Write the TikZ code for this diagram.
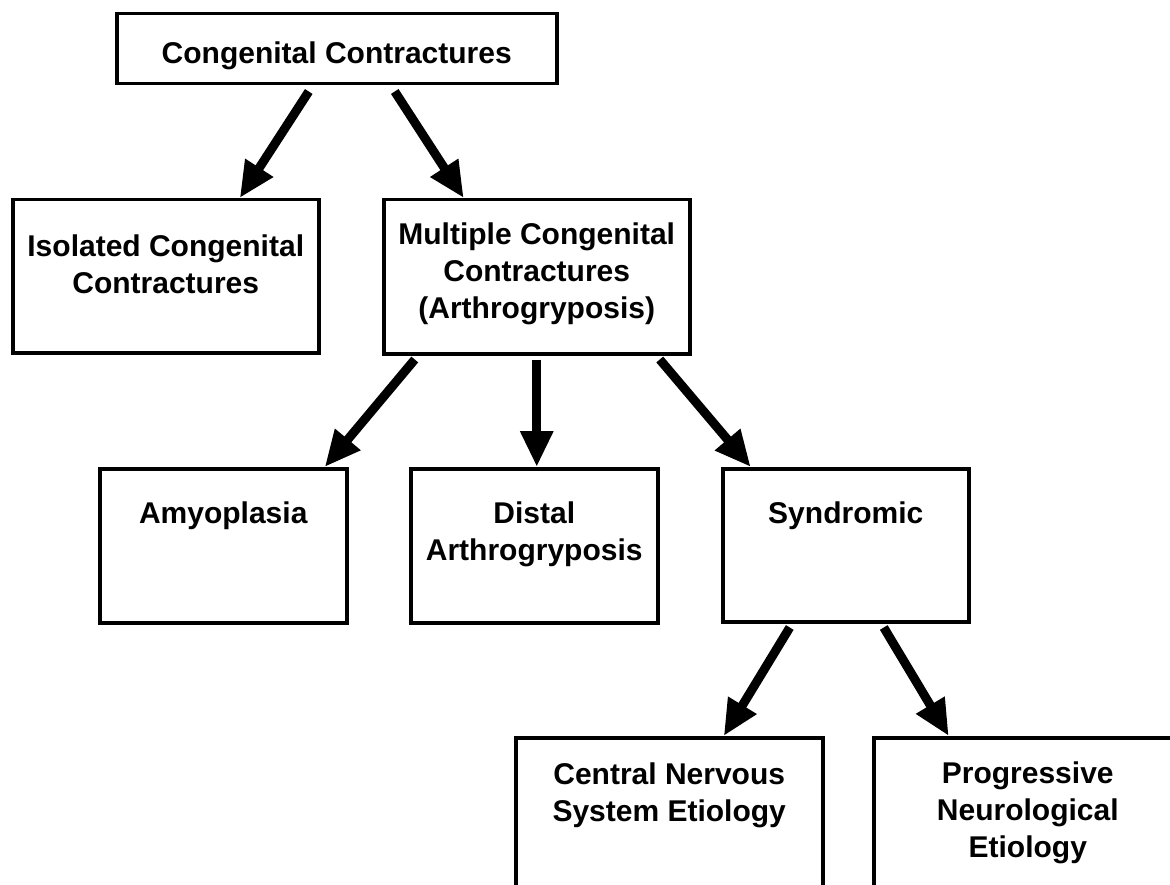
\documentclass[tikz,border=0pt]{standalone}
\usepackage{fontspec}
\setmainfont{Liberation Sans}
\usetikzlibrary{arrows.meta}
\begin{document}
\begin{tikzpicture}[x=1pt,y=-1pt,
  box/.style={draw, line width=3.5pt, inner sep=0pt, anchor=north west},
  lbl/.style={anchor=north, inner sep=0pt, align=center, font=\fontsize{30}{37}\selectfont\bfseries},
  arr/.style={line width=9pt, -{Triangle[length=36pt,width=31pt]}}]
\clip (0,0) rectangle (1170,885);
\useasboundingbox (0,0) rectangle (1170,885);
% boxes
\node[box, minimum width=440pt, minimum height=70pt] (top) at (115,12) {};
\node[box, minimum width=306pt, minimum height=153pt] (iso) at (11,198) {};
\node[box, minimum width=306pt, minimum height=154pt] (mult) at (382,198) {};
\node[box, minimum width=247pt, minimum height=154pt] (amy) at (98,467) {};
\node[box, minimum width=247pt, minimum height=154pt] (dist) at (409,467) {};
\node[box, minimum width=246pt, minimum height=153pt] (synd) at (721,467) {};
\node[box, minimum width=307pt, minimum height=170pt] (cns) at (514,736) {};
\node[box, minimum width=308pt, minimum height=170pt] (prog) at (872,736) {};
% labels
\node[lbl] (ttop) at ([yshift=-30pt]top.north) {Congenital Contractures};
\node[lbl] (tiso) at ([yshift=-37pt]iso.north) {Isolated Congenital\\Contractures};
\node[lbl] (tmult) at ([yshift=-25pt]mult.north) {Multiple Congenital\\Contractures\\(Arthrogryposis)};
\node[lbl] (tamy) at ([yshift=-35pt]amy.north) {Amyoplasia};
\node[lbl] (tdist) at ([yshift=-35pt]dist.north) {Distal\\Arthrogryposis};
\node[lbl] (tsynd) at ([yshift=-35pt]synd.north) {Syndromic};
\node[lbl] (tcns) at ([yshift=-27pt]cns.north) {Central Nervous\\System Etiology};
\node[lbl] (tprog) at ([yshift=-26pt]prog.north) {Progressive\\Neurological\\Etiology};
% arrows
\draw[arr] ([xshift=-28pt,yshift=-6pt]top.south) -- ([xshift=74pt]iso.north);
\draw[arr] ([xshift=58pt,yshift=-6pt]top.south) -- ([xshift=-73pt]mult.north);
\draw[arr] ([xshift=-122pt,yshift=-4pt]mult.south) -- ([xshift=101.5pt]amy.north);
\draw[arr] ([xshift=0pt,yshift=-4pt]mult.south) -- ([xshift=2.5pt]dist.north);
\draw[arr] ([xshift=123pt,yshift=-4pt]mult.south) -- ([xshift=-95pt]synd.north);
\draw[arr] ([xshift=-56pt,yshift=-4pt]synd.south) -- ([xshift=54.5pt]cns.north);
\draw[arr] ([xshift=38pt,yshift=-4pt]synd.south) -- ([xshift=-79pt]prog.north);
\end{tikzpicture}
\end{document}
